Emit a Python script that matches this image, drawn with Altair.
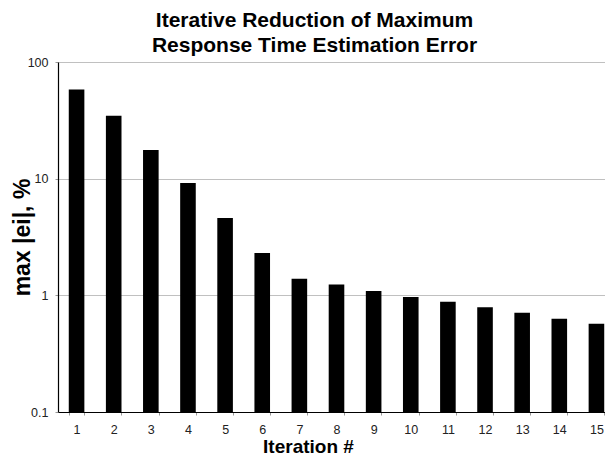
import altair as alt
import pandas as pd

iterations = [str(i) for i in range(1, 16)]
max_err = [58.2, 34.7, 17.6, 9.2, 4.6, 2.31, 1.39, 1.24, 1.09, 0.97, 0.88, 0.79, 0.71, 0.63, 0.57]
y_ticks = [0.1, 1, 10, 100]

df = pd.DataFrame({"Iteration": iterations, "err": max_err})

font = "Liberation Sans"

chart = alt.Chart(df).mark_bar(color="black").encode(
    x=alt.X("Iteration:N", sort=iterations,
            scale=alt.Scale(range=[0, 557], paddingInner=0.58, paddingOuter=0.29),
            axis=alt.Axis(title="Iteration #", labelAngle=0, labelFont=font, labelFontSize=12.5,
                          labelColor="#222", titleFont=font, titleFontSize=19, titleFontWeight="bold",
                          titleColor="black", domainColor="black", domainWidth=1.2,
                          tickBand="extent", tickColor="#999", tickSize=3, labelPadding=8,
                          titleX=250, titleY=40, titleAlign="center", titleBaseline="alphabetic")),
    y=alt.Y("err:Q", scale=alt.Scale(type="log", domain=[0.1, 100], nice=False),
            axis=alt.Axis(title="max |ei|, %", values=y_ticks, format="~g", labelFont=font,
                          labelFontSize=12.5, labelColor="#222", titleFont=font, titleFontSize=23,
                          titleFontWeight="bold", titleColor="black", domainColor="black",
                          domainWidth=1.2, gridColor="#c0c0c0", tickColor="#999", tickSize=3,
                          labelPadding=7, titleX=-47, titleY=175, titleAngle=270,
                          titleAlign="center", titleBaseline="top")),
    y2=alt.Y2(datum=0.1),
).properties(
    width=547, height=350,
    autosize=alt.AutoSizeParams(type="none"),
    padding={"left": 50, "top": 54, "right": 0, "bottom": 44},
    title=alt.TitleParams(["Iterative Reduction of Maximum", "Response Time Estimation Error"],
                          font=font, fontSize=21, fontWeight="bold", color="black",
                          anchor="middle", frame="group", offset=0, lineHeight=25, dx=-17),
).configure_view(stroke=None)

chart.save("out.html", embed_options={"renderer": "svg", "actions": False})
